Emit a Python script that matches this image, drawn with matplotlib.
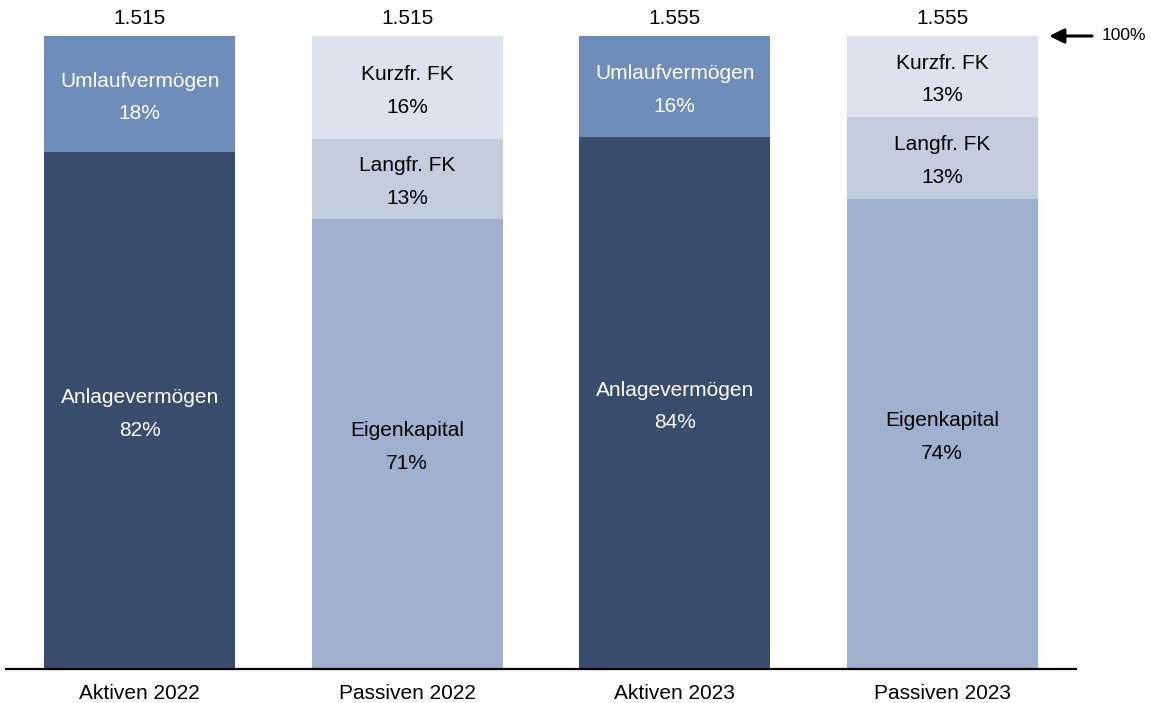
import matplotlib

matplotlib.use("Agg")
import matplotlib.pyplot as plt

plt.rcParams["font.family"] = ["Liberation Sans", "DejaVu Sans"]

# Bilanzstruktur (Anteile in %, von unten nach oben)
bars = ["Aktiven 2022", "Passiven 2022", "Aktiven 2023", "Passiven 2023"]
totals = [1515, 1515, 1555, 1555]
segments = [
    ["Anlagevermögen", "Umlaufvermögen"],
    ["Eigenkapital", "Langfr. FK", "Kurzfr. FK"],
    ["Anlagevermögen", "Umlaufvermögen"],
    ["Eigenkapital", "Langfr. FK", "Kurzfr. FK"],
]
shares = [
    [81.6, 18.4],
    [71.1, 12.6, 16.3],
    [84.0, 16.0],
    [74.3, 12.9, 12.8],
]

colors = {
    "Anlagevermögen": "#384d6c",
    "Umlaufvermögen": "#6e8db9",
    "Eigenkapital": "#9eb1ce",
    "Langfr. FK": "#c2cde0",
    "Kurzfr. FK": "#dde3ee",
}
text_colors = {
    "Anlagevermögen": "white",
    "Umlaufvermögen": "white",
    "Eigenkapital": "black",
    "Langfr. FK": "black",
    "Kurzfr. FK": "black",
}


def fmt_total(v: int) -> str:
    return f"{v:,}".replace(",", ".")


fig = plt.figure(figsize=(11.51, 7.03), dpi=100)
ax = fig.add_axes([6 / 1151, 34 / 703, 1070 / 1151, 633 / 703])

width = 0.714
for i, (names, vals) in enumerate(zip(segments, shares)):
    bottom = 0.0
    for name, v in zip(names, vals):
        ax.bar(i, v, width=width, bottom=bottom, color=colors[name], linewidth=0)
        ax.text(
            i, bottom + v / 2 - 0.5, f"{name}\n{v:.0f}%",
            ha="center", va="center", fontsize=15, linespacing=1.9,
            color=text_colors[name],
        )
        bottom += v
    ax.text(i, bottom + 2.8, fmt_total(totals[i]), ha="center", va="center",
            fontsize=15, color="black", clip_on=False)

# 100%-Markierung rechts
ax.annotate(
    "", xy=(3.40, 100), xytext=(3.56, 100), xycoords="data", textcoords="data",
    arrowprops=dict(arrowstyle="-|>", color="black", lw=2.2, mutation_scale=22,
                    shrinkA=0, shrinkB=0),
    annotation_clip=False,
)
ax.text(3.595, 100, "100%", ha="left", va="center", fontsize=12.5, clip_on=False)

ax.set_xlim(-0.5, 3.5)
ax.set_ylim(0, 100)
ax.set_xticks(range(len(bars)))
ax.set_xticklabels(bars, fontsize=15)
ax.tick_params(axis="x", length=0, pad=11)
ax.set_yticks([])
for side in ["top", "right", "left"]:
    ax.spines[side].set_visible(False)
ax.spines["bottom"].set_linewidth(1.6)

fig.savefig("out.png", dpi=100)
